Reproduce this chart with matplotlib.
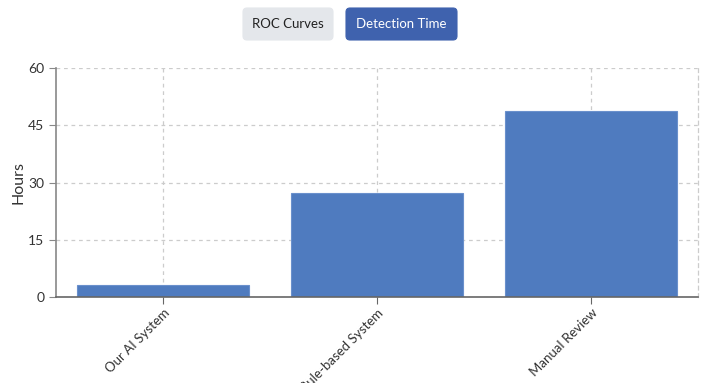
import matplotlib
matplotlib.use("Agg")
import matplotlib.pyplot as plt
from matplotlib.patches import FancyBboxPatch

plt.rcParams['font.family'] = ['Lato', 'DejaVu Sans']

categories = ["Our AI System", "Rule-based System", "Manual Review"]
hours = [3.2, 27.3, 48.7]
y_ticks = [0, 15, 30, 45, 60]
buttons = ["ROC Curves", "Detection Time"]

W, H = 710, 383
fig = plt.figure(figsize=(W / 100, H / 100), dpi=100)
ax = fig.add_axes([56 / W, 1 - 297 / H, 642 / W, 229 / H])

x = list(range(len(categories)))
ax.bar(x, hours, width=0.8, color="#4f7bbf", edgecolor="#6a90cc", linewidth=0.8, zorder=2)
ax.set_xlim(-0.5, len(categories) - 0.5)
ax.set_ylim(0, 60)
ax.set_yticks(y_ticks)
ax.set_xticks(x)
ax.set_xticklabels(categories, rotation=45, ha="right", rotation_mode="anchor",
                   fontsize=9.5, color="#333333")
ax.tick_params(axis="y", labelsize=10, colors="#333333", length=5, color="#888888")
ax.tick_params(axis="x", length=5, color="#666666", pad=2)
ax.set_ylabel("Hours", fontsize=11.5, color="#333333")
ax.yaxis.set_label_coords(-31 / 642, 0.5)

ax.grid(True, color="#cccccc", linestyle=(0, (3, 3)), linewidth=0.9, zorder=0)
ax.set_axisbelow(True)
ax.spines["top"].set_visible(False)
ax.spines["right"].set_color("#cccccc")
ax.spines["right"].set_linestyle((0, (3, 3)))
ax.spines["right"].set_linewidth(0.9)
ax.spines["left"].set_color("#888888")
ax.spines["left"].set_linewidth(1.2)
ax.spines["bottom"].set_color("#666666")
ax.spines["bottom"].set_linewidth(1.2)

# toggle buttons above the chart
btn_specs = [
    (243, 8, 90, 32, "#e4e7eb", "#222222"),
    (346, 8, 111, 32, "#3f62ae", "#ffffff"),
]
for label, (bx, by, bw, bh, fc, tc) in zip(buttons, btn_specs):
    patch = FancyBboxPatch((bx, H - by - bh), bw, bh,
                           boxstyle="round,pad=0,rounding_size=4",
                           transform=None, facecolor=fc,
                           edgecolor=fc, linewidth=0.8)
    fig.patches.append(patch)
    fig.text((bx + bw / 2) / W, 1 - (by + bh / 2) / H, label, ha="center",
             va="center", fontsize=9.5, color=tc)

fig.savefig("out.png", dpi=100)
